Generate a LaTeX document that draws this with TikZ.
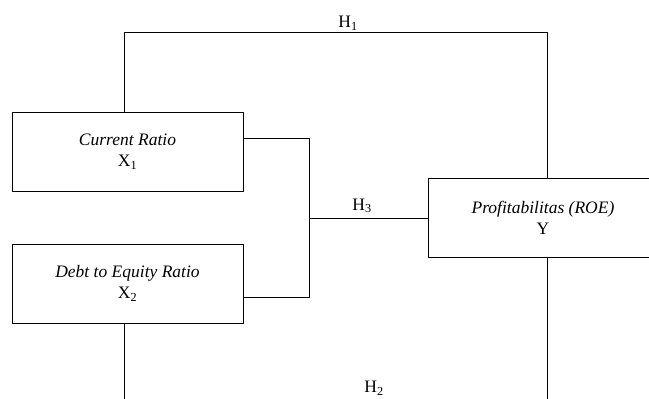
\documentclass[tikz,border=0pt]{standalone}
\usepackage{fontspec}
\setmainfont{Liberation Serif}
\begin{document}
\begin{tikzpicture}[x=1pt,y=-1pt,
  box/.style={draw,line width=0.8pt,minimum width=231pt,minimum height=79pt,align=center,inner sep=0pt,font=\fontsize{17.5}{21}\selectfont},
  conn/.style={line width=0.8pt},
  lbl/.style={inner sep=0pt,font=\fontsize{17.5}{21}\selectfont}]
\useasboundingbox (0,0) rectangle (649,399);
\clip (0,0) rectangle (649,399);
\node[box] (cr) at (127.5,151.5) {\textit{Current Ratio}\\X\textsubscript{1}};
\node[box] (de) at (127.5,283.5) {\textit{Debt to Equity Ratio}\\X\textsubscript{2}};
\node[box,minimum width=230pt] (roe) at (543,217.5) {\textit{Profitabilitas (ROE)}\\Y};
\coordinate (j) at (309,218);
\draw[conn] ([xshift=-3.5pt]cr.north) -- ++(0,-79) -| ([xshift=4pt]roe.north);
\draw[conn] ([yshift=13.5pt]cr.east) -| (j);
\draw[conn] ([yshift=-13.5pt]de.east) -| (j);
\draw[conn] (j) -- (j -| roe.west);
\draw[conn] ([xshift=-3.5pt]de.south) -- ++(0,100);
\draw[conn] ([xshift=4pt]roe.south) -- ++(0,160);
\node[lbl] (h1) at (348,23) {H\textsubscript{1}};
\node[lbl] (h3) at (362,206) {H\textsubscript{3}};
\node[lbl] (h2) at (374,388.5) {H\textsubscript{2}};
\end{tikzpicture}
\end{document}
